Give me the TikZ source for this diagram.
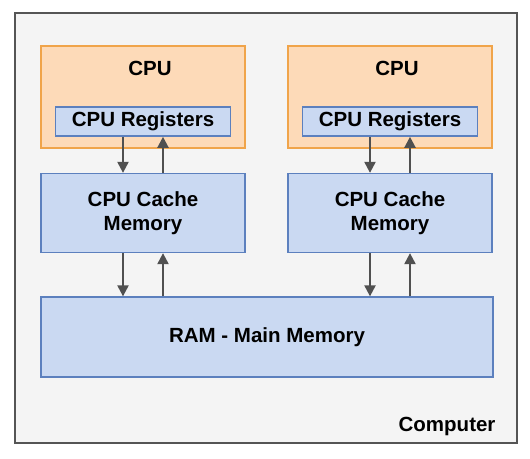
\documentclass[tikz,border=0pt]{standalone}
\usepackage{fontspec}
\setmainfont{Liberation Sans}
\usetikzlibrary{arrows.meta}
\definecolor{cpufill}{HTML}{FDDAB8}
\definecolor{cpuline}{HTML}{F0A44A}
\definecolor{memfill}{HTML}{CAD9F2}
\definecolor{memline}{HTML}{5C80BE}
\definecolor{framefill}{HTML}{F4F4F4}
\definecolor{frameline}{HTML}{555555}
\definecolor{flowgray}{HTML}{505050}
\tikzset{
  cpubox/.style={draw=cpuline, fill=cpufill, line width=1.3pt, minimum width=204pt, minimum height=102pt, inner sep=0pt},
  regbox/.style={draw=memline, fill=memfill, line width=1.6pt, minimum width=175pt, minimum height=29pt, inner sep=0pt, font=\fontsize{20.5}{23}\selectfont\bfseries},
  membox/.style={draw=memline, fill=memfill, line width=1.3pt, inner sep=0pt, align=center, font=\fontsize{20.5}{24}\selectfont\bfseries},
  label/.style={font=\fontsize{20.5}{23}\selectfont\bfseries},
  flow/.style={draw=flowgray, line width=2.2pt, -{Triangle[length=11pt,width=11pt]}},
}
\begin{document}
\begin{tikzpicture}[x=1pt,y=-1pt]
        \useasboundingbox[fill=white] (0,0) rectangle (530,458);
        \draw[fill=framefill, draw=frameline, line width=1.5pt] (15,13) rectangle (517,443);

        % left cpu
        \node[cpubox] (cpu1) at (143,97) {};
        \node[label] (cpu1name) at (150,68) {CPU};
        \node[regbox] (reg1) at (143,121.5) {CPU Registers};
        \node[membox, minimum width=204pt, minimum height=79pt] (cache1) at (143,213) {CPU Cache\\Memory};

        % right cpu
        \node[cpubox] (cpu2) at (390,97) {};
        \node[label] (cpu2name) at (397,68) {CPU};
        \node[regbox] (reg2) at (390,121.5) {CPU Registers};
        \node[membox, minimum width=204pt, minimum height=79pt] (cache2) at (390,213) {CPU Cache\\Memory};

        % main memory
        \node[membox, minimum width=452pt, minimum height=80pt] (ram) at (267,337) {RAM - Main Memory};

        \node[label, anchor=east] (comp) at (499,426) {Computer};

        % arrows
        \draw[flow] ([xshift=-20pt]reg1.south) -- ([xshift=-20pt]reg1.south |- cache1.north);
        \draw[flow] ([xshift=20pt]reg1.south |- cache1.north) -- ([xshift=20pt]reg1.south);
        \draw[flow] ([xshift=-20pt]reg2.south) -- ([xshift=-20pt]reg2.south |- cache2.north);
        \draw[flow] ([xshift=20pt]reg2.south |- cache2.north) -- ([xshift=20pt]reg2.south);
        \draw[flow] ([xshift=-20pt]cache1.south) -- ([xshift=-20pt]cache1.south |- ram.north);
        \draw[flow] ([xshift=20pt]cache1.south |- ram.north) -- ([xshift=20pt]cache1.south);
        \draw[flow] ([xshift=-20pt]cache2.south) -- ([xshift=-20pt]cache2.south |- ram.north);
        \draw[flow] ([xshift=20pt]cache2.south |- ram.north) -- ([xshift=20pt]cache2.south);
    \end{tikzpicture}
\end{document}
